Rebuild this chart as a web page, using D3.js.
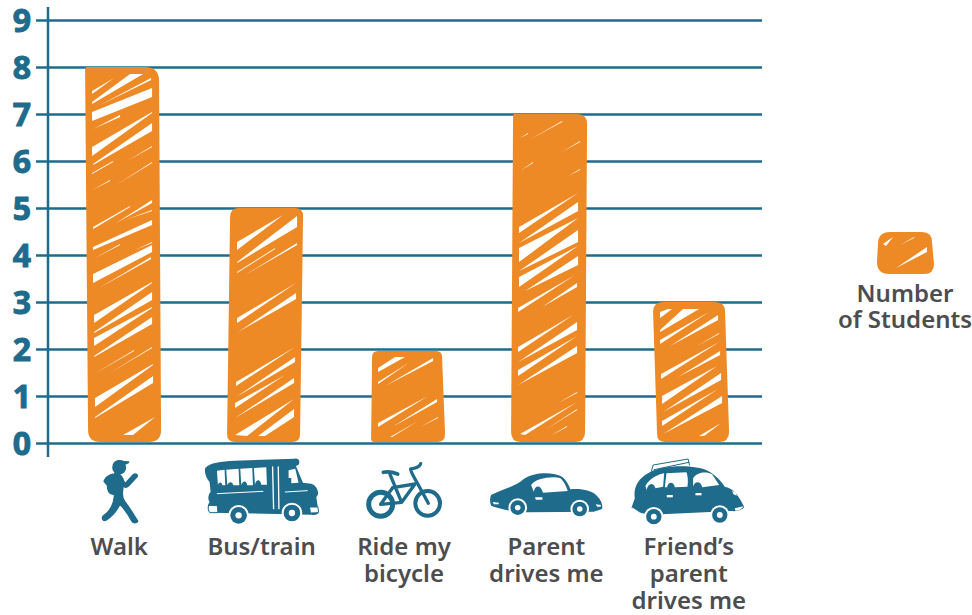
<!DOCTYPE html>
<html>
<head>
<meta charset="utf-8">
<script src="https://cdn.jsdelivr.net/npm/d3@7"></script>
<style>
  body { margin: 0; background: #fff; }
  text { font-family: "Noto Sans", sans-serif; }
</style>
</head>
<body>
<div id="chart"></div>
<script>
// Data
const categories = ["Walk", "Bus/train", "Ride my bicycle", "Parent drives me", "Friend's parent drives me"];
const students = [8, 5, 2, 7, 3];
const yTicks = [0, 1, 2, 3, 4, 5, 6, 7, 8, 9];
const categoryLines = [["Walk"], ["Bus/train"], ["Ride my", "bicycle"], ["Parent", "drives me"], ["Friend\u2019s", "parent", "drives me"]];
const legendLines = ["Number", "of Students"];

const width = 972, height = 615;
const blue = "#1f6b8c", orange = "#ee8a25", grey = "#4d4d4f";

const svg = d3.select("#chart").append("svg")
  .attr("width", width)
  .attr("height", height)
  .style("display", "block");

// Scales
const y = d3.scaleLinear().domain([0, 9]).range([443, 20]);
const x = d3.scaleBand().domain(categories).range([51, 761]).paddingInner(.48).paddingOuter(.24);
const xLabel = d3.scalePoint().domain(categories).range([119.2, 688.8]);

// Grid and axis
svg.append("g")
  .attr("transform", "translate(48,0)")
  .call(d3.axisRight(y).tickValues(yTicks).tickSize(714).tickFormat(""))
  .call(g => g.select(".domain").remove())
  .selectAll("line").attr("stroke", blue).attr("stroke-width", 2.5);

const yAxis = svg.append("g")
  .attr("transform", "translate(48,0)")
  .call(d3.axisLeft(y).tickValues(yTicks).tickSize(12).tickPadding(0));
yAxis.select(".domain").remove();
yAxis.selectAll("line").attr("stroke", blue).attr("stroke-width", 2.5);
yAxis.selectAll("text")
  .attr("x", -26)
  .attr("dy", "0.36em")
  .attr("text-anchor", "middle")
  .attr("fill", blue)
  .attr("stroke", blue)
  .attr("stroke-width", 1)
  .attr("stroke-linejoin", "round")
  .style("font-family", '"Noto Sans", sans-serif')
  .style("font-size", "32px")
  .style("font-weight", 700);

svg.append("line")
  .attr("x1", 48).attr("x2", 48)
  .attr("y1", y(9) - 13).attr("y2", y(0) + 14)
  .attr("stroke", blue).attr("stroke-width", 2.5);

// Hand drawn outline: offsets from the band edges, corner radii tl,tr,br,bl
const barShapes = [
  { tl: 0, tr: 74, br: 76, bl: 3, top: 0, r: [2, 14, 12, 12], hx: 0 },
  { tl: 3, tr: 76, br: 73, bl: 0, top: 0, r: [9, 8, 8, 8], hx: 2 },
  { tl: 3, tr: 73, br: 76, bl: 2, top: 2, r: [6, 6, 8, 3], hx: 2 },
  { tl: 2, tr: 76, br: 74, bl: 0, top: 0, r: [1, 10, 10, 10], hx: 2 },
  { tl: 0, tr: 72, br: 76, bl: 4, top: 0, r: [10, 10, 10, 8], hx: 1 }
];

function roughRect(x0, x1, x2, x3, top, bottom, r) {
  const p = d3.path();
  p.moveTo(x0 + r[0], top);
  p.lineTo(x1 - r[1], top);
  p.quadraticCurveTo(x1, top, x1, top + r[1]);
  p.lineTo(x2, bottom - r[2]);
  p.quadraticCurveTo(x2, bottom, x2 - r[2], bottom);
  p.lineTo(x3 + r[3], bottom);
  p.quadraticCurveTo(x3, bottom, x3, bottom - r[3]);
  p.lineTo(x0, top + r[0]);
  p.quadraticCurveTo(x0, top, x0 + r[0], top);
  p.closePath();
  return p.toString();
}

// White scribble gaps, polygons in px from each bar's top left corner
const hatchWalk = [
  [7,24,29,11,7,27], [7,35,45,7,58,7,7,37], [15,38,66,11,66,13], [7,45,67,21,67,30,7,54], [8,62,35,48,35,50],
  [7,80,67,45,67,46,7,89], [8,97,67,56,67,64,8,98], [7,106,28,94,28,95,7,107], [42,94,67,79,67,80],
  [7,123,25,113,25,114], [31,118,67,95,67,96], [8,160,45,139,45,140,8,162], [31,156,67,133,67,136],
  [40,153,67,143,67,144], [8,180,67,153,67,158,8,183], [8,192,35,177,35,178], [50,183,67,175,67,176],
  [8,207,67,178,67,185,8,216], [14,221,66,190,66,192], [9,248,67,215,67,216,9,256], [9,265,67,225,67,233,9,266],
  [9,271,67,240,67,241,9,279], [9,289,67,250,67,257,9,290], [9,307,49,283,49,284], [23,307,67,280,67,281],
  [10,331,68,297,68,298,10,340], [10,350,68,309,68,316,10,351], [38,368,70,350,48,368]
];
const hatchBus = [
  [8,34,54,7,8,42], [8,54,68,8,68,19,8,55], [8,64,46,40,46,41,8,65], [16,67,68,35,68,37], [8,110,67,75,8,115],
  [9,124,67,85,67,91], [7,174,66,139,7,178], [7,189,66,149,66,154], [6,195,56,167,6,200], [6,210,65,170,65,175],
  [6,227,65,191,18,228], [29,228,65,201,65,209,36,228]
];
const hatchBike = [
  [7,17,24,6,34,6,7,21], [7,31,39,11,7,33], [14,35,62,7,62,10], [7,72,57,45,7,76], [21,76,66,48,66,51],
  [19,86,47,70,21,86], [49,76,67,66,67,67]
];
const hatchParent = [
  [16,26,49,7,49,8], [7,24,15,19,15,20], [49,38,67,27,67,28], [7,57,20,48,20,49], [55,62,67,55,67,56],
  [6,113,65,79,6,119], [6,129,65,88,65,97], [6,134,65,104,6,148], [6,157,65,116,65,128], [6,163,65,132,6,173],
  [12,177,65,142,65,151], [5,194,62,161,5,198], [29,193,64,169,64,173], [5,233,60,201,5,238], [5,248,64,208,64,216],
  [5,256,64,222,5,262], [5,271,64,232,64,239], [45,289,64,278,64,279], [7,320,64,288,12,321], [32,316,64,295,64,296],
  [37,322,54,312,54,313]
];
const hatchFriend = [
  [6,10,14,7,18,7,6,16], [6,28,29,7,45,7,6,30], [6,38,55,10,6,42], [16,44,64,13,64,18], [43,44,65,31,65,32],
  [7,72,65,40,7,77], [24,75,66,49,66,53], [8,94,63,64,8,102], [9,110,67,71,67,78], [8,119,64,87,8,124],
  [9,132,68,94,68,101], [45,134,67,121,50,134]
];
const hatches = [hatchWalk, hatchBus, hatchBike, hatchParent, hatchFriend];
const hatchLegend = [[6,12,16,5,9,14], [23,13,37,5,37,6], [19,36,50,15,50,20]];

function polyPoints(d) {
  return d3.range(0, d.length, 2).map(i => d[i] + "," + d[i + 1]).join(" ");
}

// Bars
const bars = svg.append("g").selectAll("g")
  .data(categories)
  .join("g");

bars.append("path")
  .attr("fill", orange)
  .attr("d", (d, i) => {
    const s = barShapes[i], b = x(d);
    return roughRect(b + s.tl, b + s.tr, b + s.br, b + s.bl, y(students[i]) + s.top, y(0) - 1, s.r);
  });

bars.append("g")
  .attr("transform", (d, i) => `translate(${x(d) + barShapes[i].hx},${y(students[i]) + barShapes[i].top})`)
  .selectAll("polygon")
  .data((d, i) => hatches[i])
  .join("polygon")
    .attr("fill", "#fff")
    .attr("points", polyPoints);

// Icons, drawn at 3x and scaled down
const iconWheel = (cx, cy, r) => [
  { circle: [cx, cy, r + 6], fill: "#fff" },
  { circle: [cx, cy, r], fill: blue },
  { circle: [cx, cy, r * .38], fill: "#fff" }
];
const iconWalk = [
  { circle: [75, 47, 21], fill: blue },
  { d: "M55,40 C58,25 75,20 90,27 L105,28 C107,33 100,37 92,38 Z", fill: blue },
  { d: "M60,66 C72,62 82,70 85,80 L92,96 L118,68 C124,64 132,68 128,74 L104,100 C96,108 90,106 86,100 L84,125 C84,135 85,142 92,150 C105,165 118,190 130,207 C130,212 118,214 114,208 C105,190 90,170 77,155 C68,175 50,195 35,204 C28,207 22,200 27,193 C40,185 52,170 58,150 L62,128 L55,126 C45,125 40,115 40,100 L30,88 C34,75 48,68 60,66 Z", fill: blue, stroke: blue, sw: 5 }
];
const iconBus = [
  { d: "M332,48 C345,32 380,28 420,26 L600,20 C612,18 618,28 612,38 L604,42 L625,92 L650,95 C665,100 672,115 670,128 L665,135 L672,180 C672,188 660,190 650,188 L345,182 C338,170 338,160 345,150 C338,140 342,125 348,120 L345,90 C335,80 328,60 332,48 Z", fill: blue },
  { d: "M367,56 L390,53 L392,100 L383,100 C383,90 372,88 370,100 Z", fill: "#fff" },
  { d: "M395,53 L432,50 L434,100 L416,100 C414,88 402,88 398,100 Z", fill: "#fff" },
  { d: "M437,50 L473,48 L475,100 L458,100 C456,85 444,85 440,100 Z", fill: "#fff" },
  { d: "M478,48 L515,46 L517,98 L500,98 C498,80 484,80 481,98 Z", fill: "#fff" },
  { d: "M582,55 L602,50 L612,92 L590,94 L590,78 L582,78 Z", fill: "#fff" },
  { d: "M368,125 L505,118", stroke: "#fff", sw: 3 },
  { d: "M572,120 L638,116", stroke: "#fff", sw: 3 },
  { d: "M534,45 L537,170", stroke: "#fff", sw: 4 },
  { d: "M551,45 L553,170", stroke: "#fff", sw: 4 },
  { d: "M342,160 L368,161 L370,182 L346,182 C340,176 340,168 342,160 Z", fill: "#fff", stroke: blue, sw: 3 },
  { d: "M646,165 L670,165 L672,182 L648,183 Z", fill: "#fff", stroke: blue, sw: 3 },
  ...iconWheel(432, 190, 25),
  ...iconWheel(592, 183, 25)
];
const iconBike = [
  { circle: [62, 148, 36], stroke: blue, sw: 15 },
  { circle: [203, 145, 37], stroke: blue, sw: 12 },
  { d: "M70,52 C85,48 100,52 113,57", stroke: blue, sw: 11 },
  { d: "M90,58 L125,142 M98,98 L165,87 L125,142 L62,148 L98,98", stroke: blue, sw: 10 },
  { d: "M182,26 C178,38 165,40 152,42 C150,50 160,60 205,145", stroke: blue, sw: 10 }
];
const iconCar = [
  { d: "M392,120 C420,105 465,95 490,72 C520,50 580,50 605,65 C618,75 625,90 630,103 C660,100 695,105 712,125 C722,135 728,150 725,162 L700,170 L500,172 C460,172 420,162 392,152 C388,140 388,130 392,120 Z", fill: blue },
  { d: "M512,90 C525,70 575,62 600,70 C610,78 618,95 622,108 L548,113 C540,88 525,90 520,110 Z", fill: "#fff" },
  { d: "M397,141 L415,143 L415,148 L400,148 Z", fill: "#fff" },
  { d: "M524,127 L546,127 L546,134 L526,134 Z", fill: "#fff" },
  { d: "M706,148 L722,150 L720,155 L710,155 Z", fill: "#fff" },
  ...iconWheel(472, 158, 22),
  ...iconWheel(658, 162, 22)
];
const iconFriend = [
  { d: "M80,48 L85,30 L190,12 L194,30 M88,44 L192,22", stroke: blue, sw: 3 },
  { d: "M30,130 C25,100 40,70 70,55 C100,32 205,25 250,48 C275,62 290,80 300,95 C330,100 345,130 358,155 C355,165 335,170 320,168 L110,178 L60,176 C40,172 25,168 20,158 Z", fill: blue },
  { d: "M62,92 C75,70 100,58 118,55 L115,95 L92,100 C85,80 70,85 65,105 Z", fill: "#fff" },
  { d: "M125,55 L185,52 C190,65 190,85 188,95 L150,97 C148,80 130,78 127,97 L120,97 Z", fill: "#fff" },
  { d: "M205,70 C215,52 245,48 262,58 L283,90 L232,97 C230,80 210,75 205,95 Z", fill: "#fff" },
  { d: "M20,156 L42,170 L48,172 C38,174 26,172 20,156 Z", fill: "#fff" },
  { d: "M330,160 L356,154 C352,163 342,166 332,167 Z", fill: "#fff" },
  { d: "M126,120 L144,120 L144,127 L126,127 Z", fill: "#fff" },
  { d: "M212,114 L230,114 L230,121 L212,121 Z", fill: "#fff" },
  { d: "M322,108 L332,112 L336,122 L326,118 Z", fill: "#fff" },
  ...iconWheel(87, 185, 23),
  ...iconWheel(285, 180, 23)
];
const icons = [iconWalk, iconBus, iconBike, iconCar, iconFriend];
const iconOffsets = [[-25, 452], [-167, 452], [-44, 455], [-186, 455], [-64, 455]];

const iconGroups = svg.append("g").selectAll("g")
  .data(categories)
  .join("g")
    .attr("transform", (d, i) => `translate(${xLabel(d) + iconOffsets[i][0]},${iconOffsets[i][1]}) scale(${1 / 3})`);

iconGroups.each(function(d, i) {
  d3.select(this).selectAll("*")
    .data(icons[i])
    .join(p => p.append(s => document.createElementNS(d3.namespaces.svg, s.circle ? "circle" : "path")))
      .each(function(s) {
        const el = d3.select(this);
        if (s.circle) el.attr("cx", s.circle[0]).attr("cy", s.circle[1]).attr("r", s.circle[2]);
        else el.attr("d", s.d);
        el.attr("fill", s.fill || "none")
          .attr("stroke", s.stroke || "none")
          .attr("stroke-width", s.sw || 0)
          .attr("stroke-linecap", "round")
          .attr("stroke-linejoin", "round");
      });
});

// Category labels
svg.append("g").selectAll("text")
  .data(categories)
  .join("text")
    .attr("x", d => xLabel(d))
    .attr("y", 555)
    .attr("text-anchor", "middle")
    .attr("fill", grey)
    .style("font-size", "24px")
    .style("font-weight", 600)
    .selectAll("tspan")
    .data((d, i) => categoryLines[i])
    .join("tspan")
      .attr("x", function() { return this.parentNode.getAttribute("x"); })
      .attr("dy", (d, i) => i ? 27 : 0)
      .text(d => d);

// Legend
svg.append("path")
  .attr("fill", orange)
  .attr("d", roughRect(878, 932, 934, 877, 232, 274, [12, 10, 10, 12]));
svg.append("g")
  .attr("transform", "translate(877,232)")
  .selectAll("polygon")
  .data(hatchLegend)
  .join("polygon")
    .attr("fill", "#fff")
    .attr("points", polyPoints);
svg.append("g").selectAll("text")
  .data(legendLines)
  .join("text")
    .attr("x", 905)
    .attr("y", (d, i) => 302 + i * 26)
    .attr("text-anchor", "middle")
    .attr("fill", grey)
    .style("font-size", "24px")
    .style("font-weight", 600)
    .text(d => d);
</script>
</body>
</html>
